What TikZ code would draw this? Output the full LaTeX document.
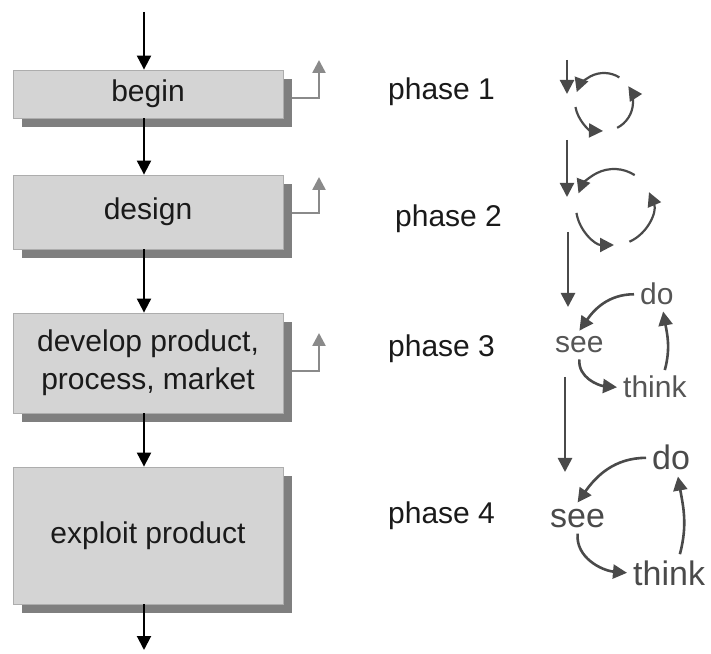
\documentclass[tikz,border=0pt]{standalone}
\usepackage{fontspec}
\setmainfont{Liberation Sans}
\usetikzlibrary{arrows.meta,shadows}
\definecolor{boxfill}{HTML}{D4D4D4}
\definecolor{boxline}{HTML}{ADADAD}
\definecolor{shade}{HTML}{7F7F7F}
\definecolor{sidegray}{HTML}{8A8A8A}
\definecolor{cycgray}{HTML}{4A4A4A}
\definecolor{wordgray}{HTML}{555555}
\definecolor{ink}{HTML}{1A1A1A}

\begin{document}
\begin{tikzpicture}[x=1pt,y=1pt,
  stage/.style={draw=boxline, line width=0.8pt, fill=boxfill, minimum width=270pt,
    inner sep=0pt, text=ink, align=center, font=\fontsize{30}{38}\selectfont,
    drop shadow={shadow xshift=9pt, shadow yshift=-9pt, fill=shade, opacity=1}},
  flow/.style={draw=black, line width=2pt, -{Triangle[width=14pt,length=14pt]}},
  side/.style={draw=sidegray, line width=2.5pt, -{Triangle[width=13pt,length=13pt]}},
  phaselabel/.style={anchor=base west, inner sep=0pt, text=ink, font=\fontsize{30}{36}\selectfont},
  loopsm/.style={draw=cycgray, line width=2.2pt, -{Triangle[width=14pt,length=14pt]}},
  loopbig/.style={draw=cycgray, line width=2.6pt, -{Triangle[width=14pt,length=14pt]}},
  wordsm/.style={anchor=base west, inner sep=6pt, text=wordgray, font=\fontsize{30}{36}\selectfont},
  wordbig/.style={anchor=base west, inner sep=6pt, text=cycgray, font=\fontsize{34}{40}\selectfont}
]
\useasboundingbox (0,0) rectangle (711,653);

% stage boxes
\node[stage, minimum height=48pt]  (b1) at (148,559)   {begin};
\node[stage, minimum height=74pt]  (b2) at (148,441)   {design};
\node[stage, minimum height=100pt] (b3) at (148,290)   {develop product,\\process, market};
\node[stage, minimum height=137pt] (b4) at (148,117.5) {exploit product};

% main flow
\coordinate (axis) at (144,0);
\coordinate (top) at (144,641);
\coordinate (bottom) at (144,3);
\draw[flow] (top) -- (b1.north -| axis);
\draw[flow] (b1.south -| axis) -- (b2.north -| axis);
\draw[flow] (b2.south -| axis) -- (b3.north -| axis);
\draw[flow] (b3.south -| axis) -- (b4.north -| axis);
\draw[flow] (b4.south -| axis) -- (bottom);

% feedback outputs
\coordinate (s1) at (319,593);
\coordinate (s2) at (319,476);
\coordinate (s3) at (319,320);
\draw[side] ([shift={(9,-4)}]b1.east) -| (s1);
\draw[side] ([shift={(9,-1)}]b2.east) -| (s2);
\draw[side] ([shift={(9,-8)}]b3.east) -| (s3);

% phase labels
\node[phaselabel] (ph1) at (388,553) {phase 1};
\node[phaselabel] (ph2) at (395,426) {phase 2};
\node[phaselabel] (ph3) at (388,296) {phase 3};
\node[phaselabel] (ph4) at (388,130) {phase 4};

% phase 1 cycle
\coordinate (d1a) at (567,593);
\coordinate (d1b) at (567,559);
\draw[loopsm] (d1a) -- (d1b);
\coordinate (p1c) at (604,551);
\draw[loopsm] (p1c) ++(58:29) arc[start angle=58, end angle=160, radius=29];
\draw[loopsm] (p1c) ++(190:29) arc[start angle=190, end angle=268, radius=29];
\draw[loopsm] (p1c) ++(297:29) arc[start angle=297, end angle=393, radius=29];

% phase 2 cycle
\coordinate (d2a) at (567,513);
\coordinate (d2b) at (567,456);
\draw[loopsm] (d2a) -- (d2b);
\coordinate (p2c) at (614,446);
\draw[loopsm] (p2c) ++(57:38) arc[start angle=57, end angle=159, radius=38];
\draw[loopsm] (p2c) ++(189:38) arc[start angle=189, end angle=270, radius=38];
\draw[loopsm] (p2c) ++(294:38) arc[start angle=294, end angle=383, radius=38];

% phase 3 cycle
\coordinate (d3a) at (568,421);
\coordinate (d3b) at (568,346);
\draw[loopbig] (d3a) -- (d3b);
\node[wordsm] (do3)    at (634,348) {do};
\node[wordsm] (see3)   at (549,300) {see};
\node[wordsm] (think3) at (617,255) {think};
\draw[loopbig] (do3.west) to[out=180, in=55] (see3.north);
\draw[loopbig] (see3.south) to[out=-95, in=175] (think3.west);
\draw[loopbig] (think3.60) to[out=75, in=-80] (do3.-70);

% phase 4 cycle
\coordinate (d4a) at (565,276);
\coordinate (d4b) at (565,181);
\draw[loopbig] (d4a) -- (d4b);
\node[wordbig] (do4)    at (646,183) {do};
\node[wordbig] (see4)   at (544,126) {see};
\node[wordbig] (think4) at (627,68)  {think};
\draw[loopbig] (do4.west) to[out=180, in=55] (see4.north);
\draw[loopbig] (see4.south) to[out=-95, in=175] (think4.west);
\draw[loopbig] (think4.60) to[out=75, in=-80] (do4.-70);
\end{tikzpicture}
\end{document}
